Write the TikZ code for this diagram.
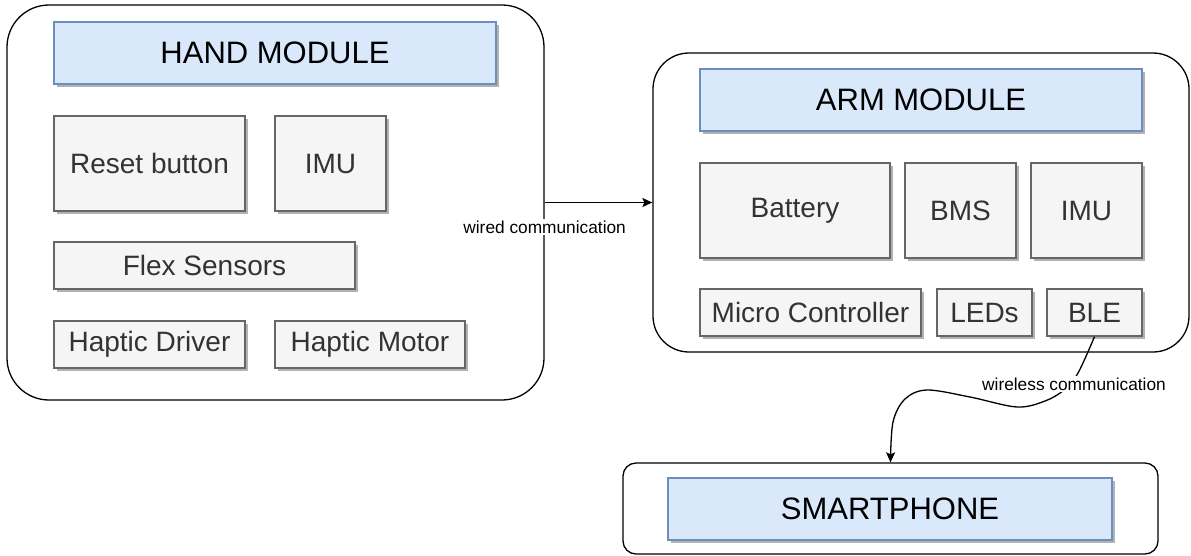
\documentclass[tikz,border=0pt]{standalone}
\usepackage{fontspec}
\setmainfont{Liberation Sans}
\usetikzlibrary{shadows,arrows.meta,calc}
\definecolor{titlefill}{HTML}{DAE8FC}
\definecolor{titledraw}{HTML}{6C8EBF}
\definecolor{compfill}{HTML}{F5F5F5}
\definecolor{compdraw}{HTML}{666666}
\definecolor{comptext}{HTML}{333333}
\begin{document}
\begin{tikzpicture}[x=1pt,y=-1pt,
  outerbox/.style={draw=black,line width=1.3pt,fill=white,inner sep=0pt},
  titlebox/.style={draw=titledraw,fill=titlefill,line width=2pt,inner sep=0pt,
     font=\fontsize{31}{36}\selectfont,
     drop shadow={shadow xshift=3pt,shadow yshift=-3pt,opacity=0.3,fill=black}},
  compbox/.style={draw=compdraw,fill=compfill,line width=1.3pt,inner sep=0pt,
     text=comptext,font=\fontsize{28}{32}\selectfont,
     drop shadow={shadow xshift=3pt,shadow yshift=-3pt,opacity=0.3,fill=black}},
  commlabel/.style={fill=white,inner sep=1.5pt,font=\fontsize{17.3}{20}\selectfont,text=black},
  link/.style={line width=1.3pt,-{Stealth[length=10pt,width=9pt,inset=2pt]}}
]
\useasboundingbox (0,0) rectangle (1191,555);
% outer containers
\node[outerbox,rounded corners=42pt,minimum width=537pt,minimum height=395pt] (hand) at (275.5,202.5) {};
\node[outerbox,rounded corners=36pt,minimum width=536pt,minimum height=299pt] (arm) at (921,202.5) {};
\node[outerbox,rounded corners=13pt,minimum width=535pt,minimum height=91pt] (phone) at (890.5,508.5) {};
% hand module
\node[titlebox,minimum width=442pt,minimum height=62pt] (handtitle) at (275,53) {HAND MODULE};
\node[compbox,minimum width=191pt,minimum height=95pt] (reset) at (149.5,163.5) {Reset button};
\node[compbox,minimum width=111pt,minimum height=95pt] (himu) at (330.5,163.5) {IMU};
\node[compbox,minimum width=301pt,minimum height=47pt] (flex) at (204.5,265.5) {Flex Sensors};
\node[compbox,minimum width=191pt,minimum height=47pt] (hdriver) at (149.5,344.5) {Haptic Driver};
\node[compbox,minimum width=190pt,minimum height=47pt] (hmotor) at (370,344.5) {Haptic Motor};
% arm module
\node[titlebox,minimum width=442pt,minimum height=62pt] (armtitle) at (921,100) {ARM MODULE};
\node[compbox,minimum width=190pt,minimum height=95pt] (battery) at (795,210.5) {Battery};
\node[compbox,minimum width=111pt,minimum height=95pt] (bms) at (960.5,210.5) {BMS};
\node[compbox,minimum width=111pt,minimum height=95pt] (aimu) at (1086.5,210.5) {IMU};
\node[compbox,minimum width=221pt,minimum height=47pt] (micro) at (810.5,312.5) {Micro Controller};
\node[compbox,minimum width=95pt,minimum height=47pt] (leds) at (984.5,312.5) {LEDs};
\node[compbox,minimum width=95pt,minimum height=47pt] (ble) at (1094.5,312.5) {BLE};
% smartphone
\node[titlebox,minimum width=444pt,minimum height=62pt] (phonetitle) at (890,509) {SMARTPHONE};
% connectors
\draw[link] (hand.east) -- (arm.west);
\node[commlabel] (wiredlabel) at ($(hand.east)+(0,24.5)$) {wired communication};
\draw[link] plot[smooth,tension=0.55] coordinates {(ble.south) (1078,373) (1064,390) (1045,401) (1017,407) (970,397) (927,390) (905,399) (893,422) (phone.north)};
\node[commlabel] (wirelesslabel) at (1074,384) {wireless communication};
\end{tikzpicture}
\end{document}
